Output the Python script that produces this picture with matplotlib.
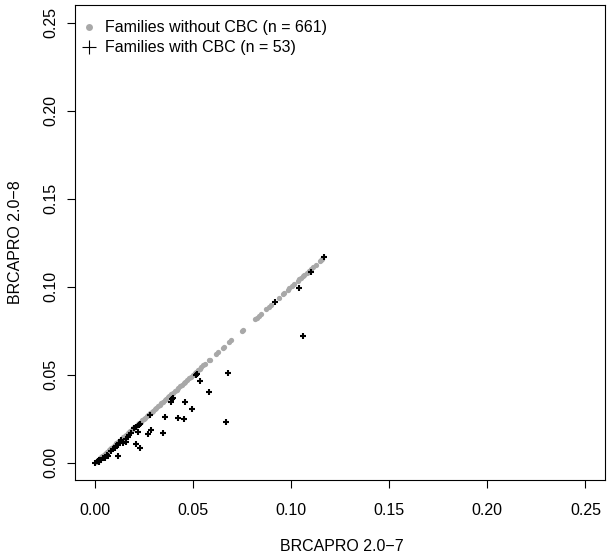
import matplotlib
matplotlib.use("Agg")
import matplotlib.pyplot as plt
from matplotlib.lines import Line2D

plt.rcParams['font.family'] = ['Liberation Sans', 'DejaVu Sans']

# families without CBC: same carrier probability under both versions
no_cbc_prob = [
    0.0005, 0.0012, 0.0018, 0.0025, 0.0031, 0.0038, 0.0044, 0.0050, 0.0057, 0.0063,
    0.0070, 0.0076, 0.0083, 0.0090, 0.0096, 0.0103, 0.0110, 0.0117, 0.0124, 0.0131,
    0.0138, 0.0145, 0.0152, 0.0160, 0.0167, 0.0174, 0.0181, 0.0189, 0.0196, 0.0204,
    0.0211, 0.0219, 0.0226, 0.0234, 0.0242, 0.0249, 0.0257, 0.0265, 0.0273, 0.0281,
    0.0289, 0.0297, 0.0305, 0.0313, 0.0321, 0.0330, 0.0338, 0.0346, 0.0355, 0.0363,
    0.0372, 0.0380, 0.0389, 0.0398, 0.0407, 0.0416, 0.0425, 0.0434, 0.0443, 0.0452,
    0.0461, 0.0470, 0.0480, 0.0489, 0.0498, 0.0508, 0.0517, 0.0527,
    0.0535, 0.0542, 0.0553, 0.0559, 0.0582, 0.0585, 0.0619, 0.0627, 0.0653, 0.0656,
    0.0685, 0.0695, 0.0751, 0.0757, 0.0818, 0.0825, 0.0836, 0.0847, 0.0874, 0.0886,
    0.0899, 0.0937, 0.0959, 0.0966, 0.0983, 0.0991, 0.1006, 0.1017, 0.1035, 0.1042,
    0.1052, 0.1059, 0.1068, 0.1080, 0.1092, 0.1101, 0.1110, 0.1125, 0.1148, 0.1153,
    0.1160,
]

# families with CBC
cbc_v7 = [
    0.1166, 0.1103, 0.1041, 0.0917, 0.1061, 0.0676, 0.0513, 0.0534, 0.0581, 0.0398,
    0.0386, 0.0458, 0.0495, 0.0356, 0.0424, 0.0452, 0.0670, 0.0282, 0.0285, 0.0347,
    0.0269, 0.0227, 0.0210, 0.0197, 0.0219, 0.0168, 0.0156, 0.0134, 0.0142, 0.0210,
    0.0232, 0.0117, 0.0100, 0.0083, 0.0117, 0.0066, 0.0041, 0.0029, 0.0015, 0.0000,
    0.0185, 0.0125, 0.0052, 0.0022, 0.0090, 0.0160, 0.0230, 0.0395, 0.0020, 0.0060,
    0.0110, 0.0175, 0.0520,
]
cbc_v8 = [
    0.1170, 0.1082, 0.0995, 0.0916, 0.0723, 0.0512, 0.0498, 0.0463, 0.0402, 0.0370,
    0.0345, 0.0344, 0.0308, 0.0260, 0.0253, 0.0247, 0.0230, 0.0269, 0.0189, 0.0172,
    0.0163, 0.0213, 0.0204, 0.0195, 0.0176, 0.0147, 0.0134, 0.0129, 0.0110, 0.0106,
    0.0082, 0.0100, 0.0082, 0.0068, 0.0040, 0.0038, 0.0025, 0.0015, 0.0011, 0.0000,
    0.0170, 0.0115, 0.0030, 0.0018, 0.0080, 0.0120, 0.0222, 0.0360, 0.0005, 0.0045,
    0.0095, 0.0158, 0.0505,
]

ticks = [0.00, 0.05, 0.10, 0.15, 0.20, 0.25]
tick_labels = ["0.00", "0.05", "0.10", "0.15", "0.20", "0.25"]

fig = plt.figure(figsize=(6.12, 5.57), dpi=100)
ax = fig.add_axes([0.123, 0.1375, 0.8656, 0.8535])

ax.plot(no_cbc_prob, no_cbc_prob, 'o', color='#a8a8a8', ms=3.8, mew=0, ls='none')
ax.plot(cbc_v7, cbc_v8, '+', color='black', ms=5, mew=1.5, ls='none')

ax.set_xlim(-0.01, 0.26)
ax.set_ylim(-0.01, 0.26)
ax.set_xticks(ticks)
ax.set_xticklabels(tick_labels)
ax.set_yticks(ticks)
ax.set_yticklabels(tick_labels, rotation=90, va='center')
ax.tick_params(axis='both', direction='out', length=6, width=0.8, labelsize=11.5)
ax.tick_params(axis='x', pad=10)
ax.tick_params(axis='y', pad=6)
for sp in ax.spines.values():
    sp.set_linewidth(0.8)

fig.text(0.5585, 0.018, "BRCAPRO 2.0\u22127", ha='center', va='center', fontsize=11.5)
fig.text(0.025, 0.565, "BRCAPRO 2.0\u22128", ha='center', va='center', fontsize=11.5, rotation=90)

handles = [
    Line2D([], [], marker='o', color='#a8a8a8', ms=5, mew=0, ls='none'),
    Line2D([], [], marker='+', color='black', ms=10, mew=0.8, ls='none'),
]
ax.legend(handles, ["Families without CBC (n = 661)", "Families with CBC (n = 53)"],
          loc='upper left', bbox_to_anchor=(-0.0075, 0.988), frameon=False,
          fontsize=11.5, borderaxespad=0.4, handlelength=1.0, handletextpad=0.5,
          labelspacing=0.3, borderpad=0.2)

fig.savefig("out.png", dpi=100)
